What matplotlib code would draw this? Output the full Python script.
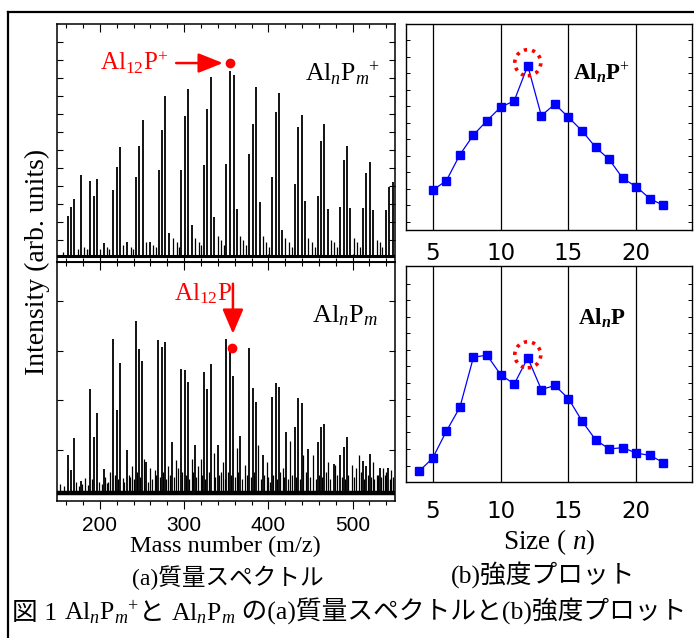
import numpy as np
import matplotlib
matplotlib.use('Agg')
import matplotlib.pyplot as plt
from matplotlib.patches import Circle
from matplotlib.lines import Line2D
from matplotlib.transforms import ScaledTranslation
from matplotlib.ticker import MultipleLocator, FixedLocator

plt.rcParams['mathtext.fontset'] = 'custom'
plt.rcParams['mathtext.rm'] = 'Liberation Serif'
plt.rcParams['mathtext.it'] = 'Liberation Serif:italic'
plt.rcParams['mathtext.bf'] = 'Liberation Serif:bold'
plt.rcParams['mathtext.bfit'] = 'Liberation Serif:italic:bold'
SERIF = 'Liberation Serif'
MIXED = ['Liberation Serif', 'Noto Sans CJK JP']
SANS = 'Liberation Sans'

# ---------------- data ----------------
# (a) mass spectrum of cations Al_nP_m^+  (main peaks)
cation_mass = [161.6, 165.6, 169.5, 177.4, 188.5, 192.5, 196.4, 204.8, 215.4, 219.8,
               223.4, 232.5, 242.8, 246.7, 250.7, 259.4, 270.1, 273.6, 277.6, 282.3,
               296.2, 300.6, 304.5, 309.3, 323.1, 327.5, 331.8, 335.8, 350.0, 354.8,
               358.7, 362.7, 377.4, 381.3, 385.3, 389.6, 404.7, 408.6, 412.6, 416.5,
               431.6, 435.5, 439.5, 443.5, 458.5, 462.5, 466.4, 470.4, 485.0, 489.4,
               493.3, 497.3, 512.3, 516.3, 520.7, 524.5, 539.5, 543.5, 547.5]
cation_int = [0.176, 0.214, 0.247, 0.352, 0.326, 0.260, 0.333, 0.057, 0.286, 0.385,
              0.471, 0.063, 0.341, 0.475, 0.587, 0.063, 0.372, 0.544, 0.692, 0.100,
              0.371, 0.604, 0.720, 0.135, 0.394, 0.634, 0.773, 0.171, 0.396, 0.799,
              0.779, 0.204, 0.441, 0.568, 0.730, 0.233, 0.343, 0.620, 0.705, 0.114,
              0.313, 0.558, 0.607, 0.240, 0.262, 0.497, 0.570, 0.204, 0.214, 0.416,
              0.474, 0.210, 0.208, 0.361, 0.405, 0.200, 0.200, 0.300, 0.320]
# small peaks / noise features of the cation spectrum
cation_minor_mass = [173.5, 180.6, 184.6, 200.4, 208.7, 227.7, 236.4, 254.6, 263.3, 286.3,
                     291.1, 313.2, 317.2, 339.7, 343.7, 366.3, 370.2, 393.6, 397.5, 420.1,
                     424.1, 447.4, 451.4, 474.3, 478.3, 501.3, 505.2, 528.6, 532.5,
                     156.0, 186.9, 211.0, 239.0, 266.0, 293.5, 320.0, 347.0, 374.0, 401.0,
                     428.0, 455.0, 482.0, 509.0, 535.0]
cation_minor_int = [0.03, 0.04, 0.03, 0.03, 0.04, 0.05, 0.04, 0.06, 0.05, 0.08,
                    0.06, 0.08, 0.06, 0.09, 0.07, 0.09, 0.07, 0.09, 0.06, 0.08,
                    0.06, 0.08, 0.06, 0.07, 0.06, 0.08, 0.06, 0.07, 0.06,
                    0.02, 0.03, 0.03, 0.03, 0.04, 0.04, 0.05, 0.05, 0.05, 0.04,
                    0.04, 0.04, 0.04, 0.04, 0.04]

# (a) mass spectrum of neutrals Al_nP_m (main peaks)
neutral_mass = [161.6, 165.6, 169.5, 177.5, 188.5, 192.5, 196.2, 204.8, 215.4, 219.8,
                223.3, 231.8, 242.6, 246.5, 250.4, 254.5, 269.5, 273.4, 277.3, 285.2,
                296.0, 300.4, 304.3, 312.5, 323.2, 327.6, 331.5, 339.9, 350.0, 354.6,
                358.5, 366.7, 377.4, 381.3, 385.3, 393.2, 404.3, 408.6, 412.6, 420.5,
                431.6, 435.5, 439.5, 447.4, 458.5, 462.5, 466.4, 477.9, 485.0, 489.4,
                493.3, 512.7, 516.5, 520.3, 532.5, 542.4]
neutral_int = [0.167, 0.101, 0.237, 0.053, 0.452, 0.244, 0.346, 0.107, 0.665, 0.358,
               0.565, 0.188, 0.746, 0.623, 0.570, 0.133, 0.662, 0.633, 0.656, 0.221,
               0.539, 0.532, 0.481, 0.207, 0.526, 0.450, 0.561, 0.210, 0.667, 0.623,
               0.507, 0.246, 0.630, 0.454, 0.394, 0.167, 0.417, 0.475, 0.460, 0.265,
               0.287, 0.410, 0.389, 0.191, 0.221, 0.287, 0.300, 0.127, 0.167, 0.198,
               0.242, 0.140, 0.120, 0.170, 0.110, 0.110]
neutral_minor_mass = [182.8, 185.8, 208.7, 212.2, 226.9, 234.4, 238.6, 252.6, 259.3, 265.3,
                      281.1, 290.2, 293.0, 308.8, 316.7, 319.9, 334.9, 343.3, 346.5, 362.3,
                      372.2, 388.0, 397.9, 417.7, 425.7, 441.5, 453.4, 471.2, 479.1, 498.9,
                      504.0, 508.0, 524.6, 528.6, 535.7, 538.5, 546.0]
neutral_minor_int = [0.068, 0.036, 0.043, 0.093, 0.068, 0.080, 0.116, 0.148, 0.108, 0.100,
                     0.119, 0.145, 0.110, 0.150, 0.120, 0.150, 0.174, 0.094, 0.137, 0.195,
                     0.123, 0.210, 0.137, 0.108, 0.225, 0.166, 0.166, 0.137, 0.123, 0.123,
                     0.108, 0.166, 0.137, 0.079, 0.108, 0.079, 0.100]
# noise spikes of the neutral spectrum
neutral_noise_mass = [153, 157, 171, 175, 179, 190, 199, 202, 206, 210, 218, 221, 229, 236,
                      240, 244, 248, 257, 262, 267, 271, 275, 279, 283, 288, 298, 302, 306,
                      310, 314, 321, 325, 329, 337, 341, 348, 352, 356, 360, 364, 369, 375,
                      379, 383, 391, 395, 400, 402, 406, 410, 414, 418, 423, 428, 433, 437,
                      445, 450, 456, 460, 464, 468, 473, 482, 487, 491, 495, 502, 510, 514,
                      518, 522, 526, 530, 534, 540, 544, 548]
neutral_noise_int = [0.04, 0.03, 0.05, 0.03, 0.04, 0.06, 0.05, 0.04, 0.07, 0.05, 0.08, 0.06,
                     0.05, 0.07, 0.06, 0.09, 0.07, 0.05, 0.06, 0.08, 0.07, 0.09, 0.06, 0.08,
                     0.07, 0.09, 0.08, 0.06, 0.09, 0.07, 0.08, 0.06, 0.09, 0.07, 0.08, 0.06,
                     0.09, 0.08, 0.07, 0.09, 0.06, 0.08, 0.07, 0.09, 0.06, 0.08, 0.07, 0.05,
                     0.08, 0.06, 0.09, 0.07, 0.06, 0.08, 0.07, 0.06, 0.09, 0.07, 0.06, 0.08,
                     0.07, 0.09, 0.06, 0.08, 0.07, 0.06, 0.08, 0.07, 0.09, 0.06, 0.08, 0.07,
                     0.06, 0.08, 0.07, 0.09, 0.06, 0.07]

# (b) intensity plots
size_cation = [5, 6, 7, 8, 9, 10, 11, 12, 13, 14, 15, 16, 17, 18, 19, 20, 21, 22]
intensity_cation = [0.192, 0.237, 0.364, 0.460, 0.530, 0.595, 0.626, 0.797, 0.554, 0.610,
                    0.546, 0.480, 0.400, 0.341, 0.249, 0.208, 0.150, 0.117]
size_neutral = [4, 5, 6, 7, 8, 9, 10, 11, 12, 13, 14, 15, 16, 17, 18, 19, 20, 21, 22]
intensity_neutral = [0.050, 0.111, 0.235, 0.346, 0.578, 0.587, 0.497, 0.453, 0.575, 0.428,
                     0.447, 0.386, 0.282, 0.195, 0.153, 0.159, 0.134, 0.123, 0.090]

mass_ticks = [200, 300, 400, 500]
size_ticks = [5, 10, 15, 20]
magic_size = 12
magic_mass = 354.8

# ---------------- figure ----------------
W, H = 694, 638
fig = plt.figure(figsize=(W / 100, H / 100), dpi=100)


def rect(l, t, r, b):
    return [l / W, 1 - b / H, (r - l) / W, (b - t) / H]


axA1 = fig.add_axes(rect(57, 24, 394.7, 262))
axA2 = fig.add_axes(rect(57, 262, 394.7, 501))
axB1 = fig.add_axes(rect(406, 24, 692, 229.5))
axB2 = fig.add_axes(rect(406, 266, 692, 482))

# outer frame (right / bottom parts lie outside the canvas)
fig.add_artist(Line2D([8 / W, 1.0], [1 - 12 / H, 1 - 12 / H], transform=fig.transFigure,
                      color='black', lw=1.6))
fig.add_artist(Line2D([8 / W, 8 / W], [1 - 12 / H, 0.0], transform=fig.transFigure,
                      color='black', lw=1.6))

# ---- spectra ----
for ax, mm, ii, mn, imn, ylo, base_lw, yt in [
        (axA1, cation_mass, cation_int, cation_minor_mass, cation_minor_int, -0.024, 2.2,
         0.921 - 0.0774 * np.arange(12)),
        (axA2, neutral_mass, neutral_int, neutral_minor_mass + neutral_noise_mass,
         neutral_minor_int + neutral_noise_int, -0.0335, 3.2,
         0.188 + 0.2145 * np.arange(4))]:
    ax.vlines(mn, 0, imn, color='black', lw=0.9)
    ax.vlines(mm, 0, ii, color='black', lw=1.3)
    ax.axhline(0.0, color='black', lw=base_lw, zorder=1)
    ax.set_xlim(149, 550)
    ax.set_ylim(ylo, 1.0)
    ax.set_yticks(yt)
    ax.tick_params(axis='y', which='both', direction='in', left=True, right=True,
                   labelleft=False, length=4, width=0.8)
    ax.xaxis.set_major_locator(FixedLocator(mass_ticks))
    ax.xaxis.set_minor_locator(MultipleLocator(20))
    for s in ax.spines.values():
        s.set_linewidth(1.1)

axA1.tick_params(axis='x', which='both', direction='in', top=True, bottom=True,
                 labelbottom=False)
axA1.tick_params(axis='x', which='major', length=6, width=0.8)
axA1.tick_params(axis='x', which='minor', length=3, width=0.8)

axA2.tick_params(axis='x', which='both', direction='out', bottom=True, top=False,
                 labelsize=15, pad=5)
axA2.tick_params(axis='x', which='major', length=6, width=0.8)
axA2.tick_params(axis='x', which='minor', length=3, width=0.8)
for lab in axA2.get_xticklabels():
    lab.set_fontfamily(SANS)
sec = axA2.secondary_xaxis('top')
sec.xaxis.set_major_locator(FixedLocator(mass_ticks))
sec.xaxis.set_minor_locator(MultipleLocator(20))
sec.tick_params(axis='x', which='both', direction='in', labeltop=False)
sec.tick_params(axis='x', which='major', length=6, width=0.8)
sec.tick_params(axis='x', which='minor', length=3, width=0.8)

fig.text(225 / W, 1 - 546 / H, 'Mass number (m/z)', fontfamily=SERIF, fontsize=17.5,
         ha='center', va='center')
fig.text(37 / W, 1 - 262 / H, 'Intensity (arb. units)', rotation=90, ha='center',
         va='center', fontfamily=SERIF, fontsize=20)

# annotations on spectra
axA1.plot([magic_mass - 0.5], [0.832], 'o', color='red', ms=6, zorder=5)
axA1.annotate('', xy=(346.0, 0.832), xytext=(290.5, 0.832),
              arrowprops=dict(arrowstyle='-|>,head_length=0.75,head_width=0.3',
                              color='red', lw=1.8, mutation_scale=20,
                              shrinkA=0, shrinkB=0))
axA1.text(200.0, 0.832, r'$\mathrm{Al}_{12}\mathrm{P}^{+}$', color='red', fontsize=18,
          ha='left', va='center')
axA1.text(443.0, 0.789, r'$\mathrm{Al}_{n}\mathrm{P}_{m}{}^{+}$', color='black', fontsize=18.5,
          ha='left', va='center')

axA2.plot([magic_mass + 2.2], [0.627], 'o', color='red', ms=6, zorder=5)
axA2.annotate('', xy=(357.9, 0.690), xytext=(357.9, 0.906),
              arrowprops=dict(arrowstyle='-|>,head_length=0.75,head_width=0.32',
                              color='red', lw=1.8, mutation_scale=20,
                              shrinkA=0, shrinkB=0))
axA2.text(357.2, 0.862, r'$\mathrm{Al}_{12}\mathrm{P}$', color='red', fontsize=18,
          ha='right', va='center')
axA2.text(451.7, 0.767, r'$\mathrm{Al}_{n}\mathrm{P}_{m}$', color='black', fontsize=19,
          ha='left', va='center')

# ---- intensity plots ----
for ax, xs, ys, yt, lab, lab_xy, pad in [
        (axB1, size_cation, intensity_cation, 0.037 + 0.0803 * np.arange(12),
         r'$\mathbf{Al}_{\mathbfit{n}}\mathbf{P}^{+}$', (15.35, 0.762), 9),
        (axB2, size_neutral, intensity_neutral, 0.076 + 0.0766 * np.arange(12),
         r'$\mathbf{Al}_{\mathbfit{n}}\mathbf{P}$', (15.7, 0.757), 13)]:
    ax.plot(xs, ys, '-s', color='#0000ff', lw=0.9, ms=5.2, mec='#0000ff', zorder=3)
    ax.set_xlim(3.03, 24.1)
    ax.set_ylim(0, 1)
    ax.set_xticks(size_ticks)
    ax.set_yticks(yt)
    ax.grid(axis='x', color='black', lw=0.9)
    ax.tick_params(axis='x', length=0, labelsize=16.5, pad=pad)
    ax.tick_params(axis='y', direction='in', left=True, right=True, labelleft=False,
                   length=3, width=0.7)
    for t in ax.get_xticklabels():
        t.set_fontfamily('DejaVu Sans')
    for s in ax.spines.values():
        s.set_linewidth(1.0)
    ax.text(lab_xy[0], lab_xy[1], lab, fontsize=16.5, ha='left', va='center')
    # dotted circle around the magic cluster n = 12
    i = xs.index(magic_size)
    circ = Circle((0, 0.03), radius=0.13, fill=False, edgecolor='red', lw=2.6,
                  linestyle=(0, (0.9, 1.4)),
                  transform=fig.dpi_scale_trans + ScaledTranslation(xs[i], ys[i], ax.transData),
                  zorder=4)
    ax.add_artist(circ)

fig.text(549 / W, 1 - 542 / H, 'Size ( $n$)', fontfamily=SERIF, fontsize=19.5,
         ha='center', va='center')

# ---- captions ----
fig.text(228 / W, 1 - 578 / H, '(a)質量スペクトル', family=MIXED, fontsize=17,
         ha='center', va='center')
fig.text(543 / W, 1 - 575 / H, '(b)強度プロット', family=MIXED, fontsize=18.5,
         ha='center', va='center')

fig.canvas.draw()
renderer = fig.canvas.get_renderer()
pieces = [('図 1 ', MIXED), (r'$\mathrm{Al}_{n}\mathrm{P}_{m}{}^{+}$', SERIF), ('と ', MIXED),
          (r'$\mathrm{Al}_{n}\mathrm{P}_{m}$', SERIF), (' の(a)質量スペクトルと(b)強度プロット', MIXED)]
x = 12.0
y_base = 1 - 620 / H
for s, fam in pieces:
    t = fig.text(x / W, y_base, s, family=fam, fontsize=18.5, ha='left', va='baseline')
    bb = t.get_window_extent(renderer)
    x = bb.x1

fig.savefig('out.png', dpi=100)
